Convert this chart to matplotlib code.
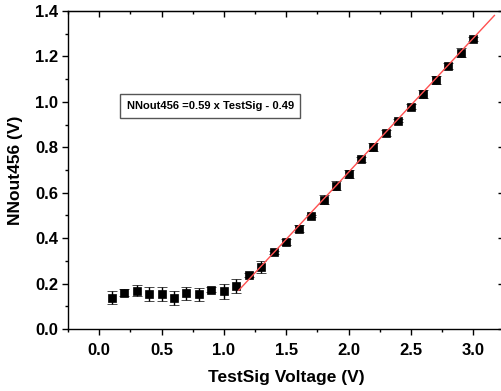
import numpy as np
import matplotlib
matplotlib.use('Agg')
import matplotlib.pyplot as plt
from matplotlib.ticker import MultipleLocator

plt.rcParams['font.family'] = ['Liberation Sans', 'DejaVu Sans']
plt.rcParams['font.weight'] = 'bold'

# measured points
test_sig = [0.1, 0.2, 0.3, 0.4, 0.5, 0.6, 0.7, 0.8, 0.9, 1.0,
            1.1, 1.2, 1.3, 1.4, 1.5, 1.6, 1.7, 1.8, 1.9, 2.0,
            2.1, 2.2, 2.3, 2.4, 2.5, 2.6, 2.7, 2.8, 2.9, 3.0]
nnout = [0.138, 0.160, 0.168, 0.155, 0.153, 0.135, 0.157, 0.153, 0.173, 0.166,
         0.188, 0.238, 0.272, 0.338, 0.382, 0.442, 0.498, 0.570, 0.630, 0.682,
         0.747, 0.801, 0.863, 0.917, 0.979, 1.035, 1.096, 1.159, 1.217, 1.276]
err = [0.029, 0.015, 0.024, 0.031, 0.030, 0.031, 0.029, 0.028, 0.010, 0.034,
       0.031, 0.010, 0.026, 0.006, 0.012, 0.016, 0.006, 0.018, 0.020, 0.016,
       0.010, 0.016, 0.012, 0.006, 0.010, 0.016, 0.016, 0.014, 0.018, 0.008]

# linear fit
slope = 0.59
offset = -0.49
fit_range = [1.12, 3.17]
fit_label = 'NNout456 =0.59 x TestSig - 0.49'

fig = plt.figure(figsize=(5.02, 3.91), dpi=100)
ax = fig.add_axes([0.1355, 0.1586, 0.868, 0.8133])

ax.errorbar(test_sig, nnout, yerr=err, fmt='s', color='black', ms=6, mew=0.5,
            ecolor='black', elinewidth=1, capsize=3.5, capthick=1, zorder=3)
fx = np.array(fit_range)
ax.plot(fx, slope * fx + offset, color='#ff5050', lw=1, zorder=4)

ax.text(0.89, 0.982, fit_label, fontsize=8, fontweight='bold', ha='center', va='center',
        bbox=dict(boxstyle='square,pad=0.6', fc='white', ec='#555555', lw=1))

ax.set_xlim(-0.25, 3.245)
ax.set_ylim(0, 1.4)
ax.xaxis.set_major_locator(MultipleLocator(0.5))
ax.xaxis.set_minor_locator(MultipleLocator(0.25))
ax.yaxis.set_major_locator(MultipleLocator(0.2))
ax.yaxis.set_minor_locator(MultipleLocator(0.1))
ax.xaxis.set_major_formatter(plt.FormatStrFormatter('%.1f'))
ax.yaxis.set_major_formatter(plt.FormatStrFormatter('%.1f'))

ax.tick_params(which='both', direction='out', top=False, right=False,
               labelsize=12, width=1)
ax.tick_params(axis='x', pad=6)
ax.tick_params(axis='y', pad=3)
ax.tick_params(which='major', length=4)
ax.tick_params(which='minor', length=2.5)

# inward ticks on top and right, no labels
sx = ax.secondary_xaxis('top')
sx.xaxis.set_major_locator(MultipleLocator(0.5))
sx.xaxis.set_minor_locator(MultipleLocator(0.25))
sx.tick_params(which='major', direction='in', length=4, width=1, labeltop=False)
sx.tick_params(which='minor', direction='in', length=2.5, width=1)
sy = ax.secondary_yaxis('right')
sy.yaxis.set_major_locator(MultipleLocator(0.2))
sy.yaxis.set_minor_locator(MultipleLocator(0.1))
sy.tick_params(which='major', direction='in', length=4, width=1, labelright=False)
sy.tick_params(which='minor', direction='in', length=2.5, width=1)

for sp in ax.spines.values():
    sp.set_linewidth(1)

ax.set_xlabel('TestSig Voltage (V)', fontsize=12.5, fontweight='bold', labelpad=9)
ax.set_ylabel('NNout456 (V)', fontsize=12.5, fontweight='bold', labelpad=9)

fig.savefig('out.png', dpi=100)
